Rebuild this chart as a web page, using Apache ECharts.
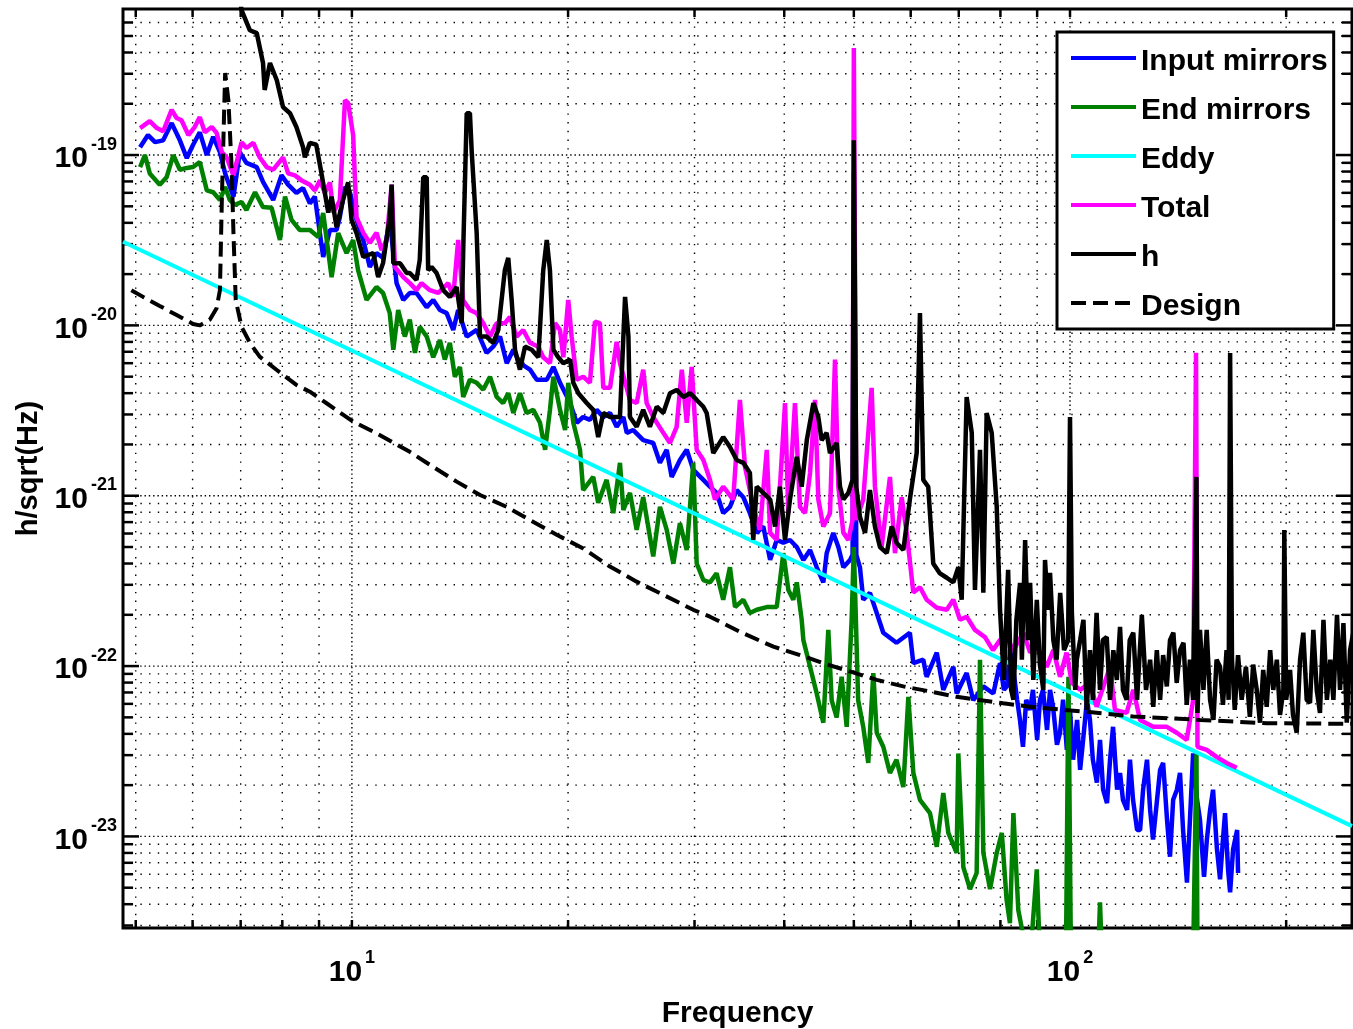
<!DOCTYPE html>
<html>
<head>
<meta charset="utf-8">
<title>Mirror noise contributions</title>
<script src="https://cdn.jsdelivr.net/npm/echarts@6/dist/echarts.min.js"></script>
<style>
  html, body { margin: 0; padding: 0; background: #fff; }
  #chart { width: 1353px; height: 1029px; }
</style>
</head>
<body>
<div id="chart"></div>
<script>
// ---- values: [frequency (Hz), amplitude (1/sqrt(Hz))] ----
const inputMirrors = [
  [5.07,1.11e-19],[5.20,1.31e-19],[5.32,1.19e-19],[5.46,1.22e-19],[5.61,1.54e-19],[5.76,1.22e-19],[5.89,9.6e-20],[6.01,1.15e-19],
  [6.14,1.36e-19],[6.28,1.0e-19],[6.41,1.28e-19],[6.55,1.04e-19],[6.66,7.8e-20],[6.84,5.7e-20],[6.98,1.04e-19],[7.13,9.0e-20],
  [7.37,8.5e-20],[7.52,6.95e-20],[7.77,5.45e-20],[7.98,7.6e-20],[8.15,6.7e-20],[8.37,6.0e-20],[8.55,6.4e-20],[8.74,5.2e-20],
  [8.88,5.7e-20],[9.12,2.52e-20],[9.32,3.63e-20],[9.52,3.63e-20],[9.62,4.3e-20],[9.78,6.5e-20],[9.94,6.0e-20],[10.15,4.16e-20],
  [10.37,3.17e-20],[10.59,2.2e-20],[10.82,2.66e-20],[11.05,2.49e-20],[11.29,4.16e-20],[11.54,1.77e-20],[11.79,1.41e-20],[12.04,1.55e-20],
  [12.30,1.55e-20],[12.71,1.28e-20],[12.98,1.41e-20],[13.26,1.23e-20],[13.55,1.18e-20],[13.84,9.4e-21],[14.06,1.23e-20],[14.45,8.6e-21],
  [14.92,9.4e-21],[15.40,6.9e-21],[15.73,7.5e-21],[16.08,8.6e-21],[16.43,6.0e-21],[16.78,7.2e-21],[17.14,6.0e-21],[17.70,5.5e-21],
  [18.09,4.8e-21],[18.68,4.8e-21],[19.08,5.7e-21],[19.49,4.6e-21],[20.13,3.5e-21],[20.56,2.68e-21],[20.99,2.9e-21],[21.45,2.79e-21],
  [21.92,3.19e-21],[22.39,2.9e-21],[22.88,3.06e-21],[23.37,2.54e-21],[23.88,2.9e-21],[24.14,2.34e-21],[24.65,2.43e-21],[25.45,2.12e-21],
  [26.28,2.04e-21],[26.85,1.56e-21],[27.44,1.86e-21],[27.88,1.29e-21],[28.63,1.62e-21],[29.26,1.86e-21],[29.88,1.42e-21],[30.86,1.24e-21],
  [31.52,1.13e-21],[32.20,1.04e-21],[32.89,7.9e-22],[33.61,8.6e-22],[34.34,1.08e-21],[35.08,9.8e-22],[35.83,7.9e-22],[36.62,6.05e-22],
  [37.40,6.6e-22],[38.23,4.2e-22],[39.05,5.5e-22],[39.88,5.3e-22],[40.74,5.5e-22],[41.64,5.0e-22],[42.53,4.2e-22],[43.45,4.8e-22],
  [44.39,3.8e-22],[45.34,3.1e-22],[45.83,4.6e-22],[46.81,6.05e-22],[47.58,5.0e-22],[48.35,3.8e-22],[49.39,4.2e-22],[49.8,4.5e-22],
  [50.0,8e-20],[50.4,4.5e-22],[50.99,3.8e-22],[51.53,2.45e-22],[52.65,2.69e-22],[53.81,2.05e-22],[54.95,1.57e-22],[57.33,1.37e-22],
  [59.84,1.57e-22],[60.51,1.04e-22],[62.47,1.09e-22],[63.15,8.65e-23],[65.23,1.2e-22],[66.61,7.25e-23],[68.79,9.9e-23],[69.53,6.9e-23],
  [71.79,9.1e-23],[73.33,6.3e-23],[75.74,7.6e-23],[78.20,6.9e-23],[79.89,1.04e-22],[80.9,7.25e-23],[81.7,7.6e-23],[82.5,1.24e-22],
  [83.3,9.9e-23],[84.4,6.34e-23],[85.18,4.83e-23],[86.0,3.36e-23],[86.9,6.34e-23],[88.0,5.53e-23],[88.8,7.25e-23],[90.0,3.69e-23],
  [90.83,6.34e-23],[91.7,7.25e-23],[92.9,4.22e-23],[93.8,7.25e-23],[94.7,5.77e-23],[95.9,3.45e-23],[96.85,4.06e-23],[97.8,6.34e-23],
  [99.0,3.22e-23],[100.0,5.53e-23],[101.0,2.82e-23],[102.3,4.83e-23],[103.3,2.46e-23],[104.3,3.69e-23],[105.6,6.34e-23],[106.6,4.83e-23],
  [107.6,2.82e-23],[109.0,2.07e-23],[110.1,3.69e-23],[111.2,1.88e-23],[112.6,1.57e-23],[113.7,2.82e-23],[114.8,4.4e-23],[116.3,1.88e-23],
  [117.4,2.36e-23],[118.5,1.64e-23],[120.1,1.43e-23],[121.2,2.82e-23],[122.4,1.64e-23],[124.0,1.09e-23],[125.2,1.09e-23],[126.4,1.88e-23],
  [128.0,2.82e-23],[129.3,1.43e-23],[130.5,9.6e-24],[132.2,1.64e-23],[133.5,2.46e-23],[134.8,2.7e-23],[136.5,1.25e-23],[137.8,7.6e-24],
  [139.2,1.64e-23],[140.9,1.88e-23],[142.3,2.36e-23],[143.7,1.09e-23],[145.5,5.35e-24],[146.9,1.25e-23],[148.4,3.07e-23],[150.3,1.64e-23],
  [151.7,1.25e-23],[153.7,5.8e-24],[155.1,9.6e-24],[156.7,1.43e-23],[158.2,1.88e-23],[160.2,8.4e-24],[161.8,5.6e-24],[163.3,9.6e-24],
  [164.4,1.37e-23],[166.0,6.4e-24],[167.1,4.7e-24],[168.7,8.4e-24],[170.9,1.09e-23],[171.4,6.1e-24]
];

const endMirrors = [
  [5.07,8.5e-20],[5.15,1.0e-19],[5.23,7.8e-20],[5.40,6.7e-20],[5.52,7.4e-20],[5.64,1.0e-19],[5.76,8.2e-20],[5.89,8.4e-20],
  [6.01,8.5e-20],[6.14,9.1e-20],[6.28,6.2e-20],[6.41,6.05e-20],[6.55,5.45e-20],[6.66,6.5e-20],[6.76,5.45e-20],[6.87,5.1e-20],
  [7.02,5.3e-20],[7.13,4.76e-20],[7.33,6.05e-20],[7.52,4.95e-20],[7.73,4.9e-20],[7.94,3.17e-20],[8.07,5.7e-20],[8.24,4.16e-20],
  [8.46,3.63e-20],[8.74,3.63e-20],[8.98,3.3e-20],[9.12,4.57e-20],[9.37,1.92e-20],[9.57,3.48e-20],[9.83,2.66e-20],[10.04,3.17e-20],
  [10.20,2.11e-20],[10.48,1.41e-20],[10.82,1.68e-20],[11.05,1.55e-20],[11.29,1.18e-20],[11.42,7.2e-21],[11.60,1.23e-20],[11.85,8.6e-21],
  [12.04,1.08e-20],[12.24,6.9e-21],[12.43,9.8e-21],[12.71,8.6e-21],[12.98,6.5e-21],[13.26,8.2e-21],[13.47,6.3e-21],[13.69,7.9e-21],
  [13.91,5.0e-21],[14.14,5.7e-21],[14.29,3.8e-21],[14.60,4.8e-21],[14.92,4.6e-21],[15.24,4.2e-21],[15.57,5.0e-21],[15.91,3.8e-21],
  [16.24,3.5e-21],[16.51,4.0e-21],[16.78,3.06e-21],[17.14,4.0e-21],[17.51,3.06e-21],[17.89,3.19e-21],[18.28,2.68e-21],[18.58,1.86e-21],
  [18.87,3.19e-21],[19.08,5.0e-21],[19.49,3.19e-21],[19.81,2.43e-21],[20.01,4.6e-21],[20.34,2.68e-21],[20.78,1.86e-21],[20.99,1.08e-21],
  [21.68,1.29e-21],[22.03,9.1e-22],[22.63,1.24e-21],[23.12,7.9e-22],[23.62,1.56e-21],[23.88,8.25e-22],[24.39,1.04e-21],[24.92,6.3e-22],
  [25.45,9.8e-22],[26.28,4.4e-22],[26.85,8.6e-22],[27.44,6.3e-22],[28.03,4.0e-22],[28.63,6.9e-22],[29.26,4.8e-22],[29.88,1.56e-21],
  [30.21,4.0e-22],[30.86,3.2e-22],[31.52,3.1e-22],[32.20,3.5e-22],[32.89,2.45e-22],[33.61,3.8e-22],[34.16,2.22e-22],[35.08,2.45e-22],
  [35.83,2.05e-22],[36.62,2.14e-22],[37.82,2.22e-22],[39.05,2.22e-22],[39.88,4.6e-22],[40.53,2.8e-22],[41.18,2.45e-22],[41.64,3.1e-22],
  [42.30,1.87e-22],[42.53,1.42e-22],[43.45,9.9e-23],[44.39,6.9e-23],[45.34,4.65e-23],[46.07,1.63e-22],[46.57,6.3e-23],[47.32,5.0e-23],
  [48.08,8.65e-23],[48.87,4.4e-23],[49.65,1.87e-22],[50.0,5.0e-22],[50.7,6.3e-23],[51.53,4.4e-23],[52.37,2.7e-23],[53.22,9.1e-23],
  [53.81,4.06e-23],[54.95,3.36e-23],[56.14,2.36e-23],[57.33,2.82e-23],[58.60,1.95e-23],[59.55,6.6e-23],[60.51,2.36e-23],[61.81,1.64e-23],
  [63.83,1.37e-23],[65.23,8.7e-24],[66.61,1.8e-23],[67.69,1.05e-23],[69.53,8.0e-24],[69.9,3.07e-23],[71.03,6.6e-24],[72.57,4.9e-24],
  [74.13,6.1e-24],[74.93,1.09e-22],[75.74,8.0e-24],[77.38,4.9e-24],[79.06,8.0e-24],[80.36,1.05e-23],[81.6,4.25e-24],[82.48,3.1e-24],
  [83.4,1.37e-23],[84.72,3.7e-24],[86.1,2.6e-24],[88.0,1.9e-24],[89.9,6.4e-24],[90.83,1.9e-24],[98.7,1.9e-24],[99.5,8.65e-23],
  [100.3,1.9e-24],[109.4,1.9e-24],[110.1,4.1e-24],[110.8,1.9e-24],[148.4,1.9e-24],[150.0,3.07e-23],[150.5,1.9e-24],[171.4,1.9e-24]
];

const eddyCurrent = [[4.8,3.1e-20],[247,1.15e-23]];

const totalNoise = [
  [5.07,1.44e-19],[5.23,1.58e-19],[5.35,1.44e-19],[5.46,1.38e-19],[5.61,1.84e-19],[5.70,1.65e-19],[5.79,1.60e-19],[5.92,1.31e-19],
  [6.04,1.46e-19],[6.14,1.67e-19],[6.24,1.36e-19],[6.38,1.46e-19],[6.48,1.35e-19],[6.59,1.04e-19],[6.69,9.7e-20],[6.84,7.6e-20],
  [7.02,1.19e-19],[7.13,1.10e-19],[7.29,1.18e-19],[7.44,9.7e-20],[7.61,8.5e-20],[7.77,8.2e-20],[8.02,9.7e-20],[8.15,7.8e-20],
  [8.33,7.6e-20],[8.51,7.1e-20],[8.74,6.7e-20],[8.88,6.2e-20],[9.03,7.1e-20],[9.17,6.0e-20],[9.32,6.9e-20],[9.42,4.6e-20],
  [9.62,5.4e-20],[9.78,2.10e-19],[9.88,2.02e-19],[10.04,1.31e-19],[10.15,4.3e-20],[10.37,3.5e-20],[10.59,3.05e-20],[10.82,3.5e-20],
  [11.0,2.77e-20],[11.18,3.17e-20],[11.36,6.7e-20],[11.48,2.2e-20],[11.79,1.92e-20],[12.04,1.77e-20],[12.30,1.61e-20],[12.50,1.77e-20],
  [12.84,1.61e-20],[13.19,1.55e-20],[13.62,1.77e-20],[13.84,1.47e-20],[14.06,3.17e-20],[14.28,1.41e-20],[14.60,1.23e-20],[14.92,1.18e-20],
  [15.24,1.03e-20],[15.57,8.6e-21],[15.91,1.03e-20],[16.33,1.03e-20],[16.60,1.12e-20],[16.96,8.6e-21],[17.32,9.4e-21],[17.70,7.9e-21],
  [18.18,7.5e-21],[18.47,6.5e-21],[18.87,6.0e-21],[19.18,1.03e-20],[19.49,9.4e-21],[19.70,6.5e-21],[20.01,1.41e-20],[20.23,8.6e-21],
  [20.56,4.8e-21],[20.99,5.0e-21],[21.45,4.6e-21],[21.80,1.05e-20],[22.15,1.03e-20],[22.39,4.3e-21],[22.88,4.3e-21],[23.37,8.0e-21],
  [23.62,6.0e-21],[24.39,3.65e-21],[24.92,3.5e-21],[25.45,5.5e-21],[25.73,3.5e-21],[26.28,2.9e-21],[27.14,2.34e-21],[27.73,2.04e-21],
  [28.33,2.54e-21],[28.80,5.5e-21],[29.26,2.68e-21],[29.73,5.7e-21],[30.21,1.86e-21],[30.86,1.62e-21],[31.52,1.24e-21],[32.03,9.5e-22],
  [32.89,1.13e-21],[33.96,9.5e-22],[34.70,3.65e-21],[35.27,1.48e-21],[36.22,8.6e-22],[37.0,6.3e-22],[37.82,1.86e-21],[38.23,6.05e-22],
  [39.05,5.5e-22],[40.10,3.5e-21],[40.53,7.9e-22],[41.40,3.5e-21],[42.07,8.6e-22],[42.76,7.9e-22],[43.45,1.36e-21],[44.15,3.65e-21],
  [44.62,9.5e-22],[45.34,6.6e-22],[46.32,7.9e-22],[47.07,6.3e-21],[47.58,1.13e-21],[48.35,6.05e-22],[49.13,5.5e-22],[49.8,7.2e-22],
  [50.0,4.25e-19],[50.4,7.2e-22],[51.53,9.5e-22],[52.94,4.3e-21],[53.5,1.13e-21],[54.66,5.0e-22],[56.14,1.29e-21],[57.05,4.6e-22],
  [58.29,9.8e-22],[59.24,6.05e-22],[60.51,2.7e-22],[61.81,2.9e-22],[63.15,2.45e-22],[65.23,2.2e-22],[67.35,2.14e-22],[68.79,2.45e-22],
  [70.27,1.87e-22],[71.79,1.95e-22],[73.73,1.63e-22],[76.13,1.48e-22],[78.11,1.24e-22],[79.89,1.42e-22],[81.6,1.48e-22],[83.4,1.24e-22],
  [86.1,1.57e-22],[88.0,1.2e-22],[89.9,1.3e-22],[92.8,9.9e-23],[94.8,1.24e-22],[96.85,8.65e-23],[98.9,1.2e-22],[100.6,7.97e-23],
  [103.3,7.25e-23],[106.6,7.97e-23],[108.9,5.77e-23],[113.7,9.9e-23],[115.5,5.53e-23],[119.9,5.31e-23],[122.5,7.25e-23],[125.2,4.83e-23],
  [130.6,4.4e-23],[136.4,4.4e-23],[140.8,4.06e-23],[145.4,3.69e-23],[148.4,6.3e-23],[149.8,6.9e-21],[150.5,3.36e-23],[155.0,3.22e-23],
  [160.0,2.93e-23],[165.2,2.7e-23],[170.7,2.53e-23]
];

const hStrain = [
  [6.9,1.2e-18],[7.02,7.1e-19],[7.21,5.4e-19],[7.37,5.2e-19],[7.52,3.47e-19],[7.56,2.41e-19],[7.69,3.47e-19],[7.86,2.75e-19],
  [8.02,1.91e-19],[8.20,1.76e-19],[8.37,1.46e-19],[8.55,1.11e-19],[8.60,9.7e-20],[8.74,1.18e-19],[8.92,1.15e-19],[9.07,7.8e-20],
  [9.27,4.6e-20],[9.37,5.7e-20],[9.52,3.78e-20],[9.72,5.45e-20],[9.88,6.9e-20],[9.99,4.16e-20],[10.15,3.48e-20],[10.37,2.52e-20],
  [10.71,2.66e-20],[10.88,1.92e-20],[11.05,2.32e-20],[11.29,4.3e-20],[11.36,6.7e-20],[11.42,2.32e-20],[11.67,2.32e-20],[11.92,2.03e-20],
  [12.04,2.03e-20],[12.30,1.85e-20],[12.43,2.42e-20],[12.57,7.4e-20],[12.71,7.4e-20],[12.77,2.11e-20],[12.91,2.2e-20],[13.12,2.03e-20],
  [13.40,1.61e-20],[13.69,1.47e-20],[13.99,1.68e-20],[14.22,1.03e-20],[14.29,2.77e-20],[14.45,1.76e-19],[14.60,1.76e-19],[14.68,1.07e-19],
  [14.92,3.48e-20],[15.08,8.6e-21],[15.40,8.6e-21],[15.73,7.9e-21],[15.99,9.4e-21],[16.33,2.11e-20],[16.51,2.49e-20],[16.69,1.41e-20],
  [16.87,7.2e-21],[17.14,5.5e-21],[17.42,7.5e-21],[17.80,7.2e-21],[18.18,6.5e-21],[18.47,2.11e-20],[18.68,3.17e-20],[18.87,2.11e-20],
  [19.08,7.2e-21],[19.38,6.5e-21],[19.70,6.0e-21],[20.13,6.3e-21],[20.34,4.6e-21],[20.67,4.0e-21],[21.23,3.5e-21],[21.68,3.19e-21],
  [22.03,2.21e-21],[22.39,3.06e-21],[22.88,2.9e-21],[23.62,2.9e-21],[24.01,1.47e-20],[24.27,8.6e-21],[24.39,2.9e-21],[24.92,2.54e-21],
  [25.45,3.19e-21],[26.0,2.54e-21],[26.58,3.33e-21],[27.14,3.06e-21],[27.73,4.0e-21],[28.33,4.18e-21],[28.94,3.8e-21],[29.57,4.0e-21],
  [30.21,3.65e-21],[30.86,3.33e-21],[31.19,3.06e-21],[31.86,1.78e-21],[32.89,2.21e-21],[33.61,1.93e-21],[34.34,1.62e-21],[35.08,1.56e-21],
  [35.83,1.36e-21],[36.22,5.5e-22],[36.62,1.13e-21],[37.40,1.04e-21],[38.23,9.5e-22],[38.84,6.6e-22],[39.45,1.13e-21],[40.10,5.5e-22],
  [40.74,9.5e-22],[41.64,1.69e-21],[42.30,1.13e-21],[43.0,2.12e-21],[43.92,3.5e-21],[44.62,2.9e-21],[45.10,2.12e-21],[45.83,2.34e-21],
  [46.32,1.78e-21],[47.32,2.04e-21],[47.83,1.13e-21],[48.35,9.5e-22],[49.13,1.04e-21],[49.8,1.24e-21],[50.0,1.22e-19],[50.4,1.13e-21],
  [50.99,7.5e-22],[51.83,6.05e-22],[52.65,1.08e-21],[53.5,6.6e-22],[54.37,5.0e-22],[55.57,4.6e-22],[56.45,6.6e-22],[57.33,5.3e-22],
  [58.60,4.8e-22],[59.84,9.5e-22],[61.16,1.78e-21],[61.81,1.18e-20],[62.47,1.24e-21],[63.47,1.13e-21],[64.50,4.0e-22],[65.9,3.5e-22],
  [67.35,3.3e-22],[68.79,3.1e-22],[69.90,3.8e-22],[70.66,2.45e-22],[71.79,3.8e-21],[72.98,2.34e-21],[73.73,2.8e-22],[74.93,1.86e-21],
  [75.74,2.7e-22],[76.55,3.06e-21],[77.8,2.34e-21],[79.06,8.6e-22],[79.9,2.14e-22],[80.9,8.3e-23],[82.0,3.67e-22],[82.8,7.25e-23],
  [83.4,6.34e-23],[84.2,1.87e-22],[85.2,3.08e-22],[85.7,1.09e-22],[86.6,5.5e-22],[87.4,1.42e-22],[88.0,3.08e-22],[88.9,8.3e-23],
  [89.9,2.45e-22],[90.8,1.02e-22],[91.8,7.25e-23],[92.3,4.2e-22],[93.2,2.14e-22],[93.8,3.52e-22],[94.8,1.42e-22],[95.8,1.09e-22],
  [96.9,2.69e-22],[98.1,1.24e-22],[99.4,1.42e-22],[100.0,2.9e-21],[100.6,2.05e-22],[101.7,7.25e-23],[102.2,1.09e-22],[103.3,1.42e-22],
  [104.4,1.87e-22],[105.5,5.53e-23],[106.6,1.24e-22],[107.6,6.34e-23],[108.9,2.05e-22],[110.1,7.25e-23],[111.1,1.42e-22],[112.5,1.48e-22],
  [113.7,6.34e-23],[114.9,1.24e-22],[116.2,8.3e-23],[117.4,1.70e-22],[118.5,7.25e-23],[119.9,6.34e-23],[121.1,1.42e-22],[122.5,1.57e-22],
  [124.0,6.34e-23],[125.9,2.0e-22],[127.6,7.25e-23],[129.3,1.09e-22],[130.6,5.77e-23],[132.1,1.24e-22],[133.5,6.34e-23],[134.8,1.16e-22],
  [136.4,7.6e-23],[137.8,1.42e-22],[139.3,1.57e-22],[140.8,7.97e-23],[142.3,1.24e-22],[143.9,1.37e-22],[145.4,5.92e-23],[146.9,1.09e-22],
  [148.4,6.34e-23],[150.0,1.29e-21],[150.5,5.31e-23],[151.7,1.63e-22],[153.4,7.25e-23],[155.0,1.63e-22],[156.7,6.34e-23],[158.4,4.83e-23],
  [160.0,1.09e-22],[161.8,9.9e-23],[163.3,5.92e-23],[165.2,1.24e-22],[166.3,6.34e-23],[167.1,6.89e-21],[168.1,1.09e-22],[169.6,5.53e-23],
  [171.4,1.16e-22],[173.4,6.34e-23],[175.8,9.9e-23],[178.0,5.03e-23],[179.9,1.02e-22],[182.0,7.25e-23],[183.9,4.65e-23],[185.8,9.5e-23],
  [187.9,5.77e-23],[190.0,1.24e-22],[191.9,7.25e-23],[194.1,1.09e-22],[196.1,5.17e-23],[198.2,7.25e-23],[198.8,6.3e-22],[200.0,6.34e-23],
  [202.5,9.5e-23],[204.4,5.17e-23],[206.9,4.06e-23],[209.1,1.09e-22],[211.3,1.57e-22],[213.6,6.34e-23],[215.9,6.08e-23],[218.2,1.63e-22],
  [220.6,7.25e-23],[222.9,5.31e-23],[225.4,1.87e-22],[227.9,6.34e-23],[230.4,1.09e-22],[232.7,6.34e-23],[235.4,2.0e-22],[237.7,7.25e-23],
  [240.3,1.79e-22],[242.9,4.65e-23],[245.5,1.24e-22],[248,1.57e-22]
];

const designCurve = [
  [4.93,1.61e-20],[5.12,1.47e-20],[5.40,1.30e-20],[5.70,1.15e-20],[6.01,1.02e-20],[6.14,1.0e-20],[6.34,1.08e-20],[6.48,1.26e-20],
  [6.55,1.61e-20],[6.59,5.45e-20],[6.66,3.03e-19],[6.73,2.10e-19],[6.80,8.5e-20],[6.84,3.49e-20],[6.89,1.41e-20],[7.02,9.8e-21],
  [7.21,7.9e-21],[7.44,6.55e-21],[7.86,5.47e-21],[8.37,4.47e-21],[8.74,4.08e-21],[9.22,3.49e-21],[10.04,2.72e-21],[10.82,2.33e-21],
  [12.04,1.81e-21],[12.84,1.52e-21],[13.99,1.21e-21],[15.08,1.01e-21],[16.43,8.6e-22],[17.70,7.2e-22],[19.28,5.9e-22],[21.0,4.9e-22],
  [22.87,3.84e-22],[24.92,3.13e-22],[27.14,2.62e-22],[29.88,2.14e-22],[31.52,1.95e-22],[34.70,1.59e-22],[38.63,1.30e-22],[42.07,1.16e-22],
  [45.33,1.04e-22],[49.39,9.3e-23],[53.81,8.3e-23],[58.6,7.6e-23],[63.8,7.1e-23],[69.5,6.6e-23],[80.7,6.05e-23],[88.9,5.74e-23],
  [104.4,5.41e-23],[122.5,5.06e-23],[151.7,4.83e-23],[187.9,4.62e-23],[248,4.58e-23]
];

// axis ranges and tick positions
const X_MIN = 4.8, X_MAX = 247
const Y_MIN = 2.9e-24, Y_MAX = 7.2e-19
const xMajorTicks = [10, 100]
const xMinorTicks = [5, 6, 7, 8, 9, 20, 30, 40, 50, 60, 70, 80, 90, 200]
const yMajorTicks = [1e-23, 1e-22, 1e-21, 1e-20, 1e-19]
const yMinorTicks = [
  3e-24, 4e-24, 5e-24, 6e-24, 7e-24, 8e-24, 9e-24,
  2e-23, 3e-23, 4e-23, 5e-23, 6e-23, 7e-23, 8e-23, 9e-23,
  2e-22, 3e-22, 4e-22, 5e-22, 6e-22, 7e-22, 8e-22, 9e-22,
  2e-21, 3e-21, 4e-21, 5e-21, 6e-21, 7e-21, 8e-21, 9e-21,
  2e-20, 3e-20, 4e-20, 5e-20, 6e-20, 7e-20, 8e-20, 9e-20,
  2e-19, 3e-19, 4e-19, 5e-19, 6e-19
]

const FONT = '"Liberation Sans", Arial, Helvetica, sans-serif'

// grid line items: [x, y, direction (0 = vertical), major flag]
const gridItems = []
xMajorTicks.forEach(v => gridItems.push([v, Y_MIN, 0, 1]))
xMinorTicks.forEach(v => gridItems.push([v, Y_MIN, 0, 0]))
yMajorTicks.forEach(v => gridItems.push([X_MIN, v, 1, 1]))
yMinorTicks.forEach(v => gridItems.push([X_MIN, v, 1, 0]))

function renderGrid(params, api) {
  const cs = params.coordSys
  const pt = api.coord([api.value(0), api.value(1)])
  const major = api.value(3) === 1
  const dotted = { stroke: '#000', lineWidth: 1.4, lineDash: major ? [1.4, 2.9] : [1.4, 7.3] }
  const tick = { stroke: '#000', lineWidth: 2.5 }
  const top = cs.y, bottom = cs.y + cs.height, left = cs.x, right = cs.x + cs.width
  if (api.value(2) === 0) {
    const x = pt[0]
    return {
      type: 'group',
      children: [
        { type: 'line', shape: { x1: x, y1: top, x2: x, y2: bottom }, style: dotted },
        { type: 'line', shape: { x1: x, y1: bottom, x2: x, y2: bottom - 8 }, style: tick },
        { type: 'line', shape: { x1: x, y1: top, x2: x, y2: top + 8 }, style: tick }
      ]
    }
  }
  const y = pt[1]
  const len = major ? 16 : 10
  return {
    type: 'group',
    children: [
      { type: 'line', shape: { x1: left, y1: y, x2: right, y2: y }, style: dotted },
      { type: 'line', shape: { x1: left, y1: y, x2: left + len, y2: y }, style: tick },
      { type: 'line', shape: { x1: right, y1: y, x2: right - len, y2: y }, style: tick }
    ]
  }
}

function powerLabel(v) {
  return '{b|10}{s|' + Math.round(Math.log10(v)) + '}'
}

const labelRich = {
  b: { fontSize: 30, fontWeight: 'bold', color: '#000', fontFamily: FONT, lineHeight: 30, padding: [17, 0, 0, 0] },
  s: { fontSize: 18, fontWeight: 'bold', color: '#000', fontFamily: FONT, lineHeight: 18, verticalAlign: 'top', padding: [0, 0, 0, 3] }
}

function lineSeries(name, data, color, width, dash) {
  return {
    name: name,
    type: 'line',
    data: data,
    symbol: 'none',
    showSymbol: false,
    silent: true,
    lineStyle: { color: color, width: width, type: dash || 'solid' },
    itemStyle: { color: color }
  }
}

const chart = echarts.init(document.getElementById('chart'))

chart.setOption({
  animation: false,
  backgroundColor: '#fff',
  textStyle: { fontFamily: FONT },
  grid: {
    left: 123, top: 9, right: 1, bottom: 101,
    show: true, borderColor: '#000', borderWidth: 3, backgroundColor: 'transparent',
    containLabel: false, outerBoundsMode: 'none'
  },
  legend: {
    data: ['Input mirrors', 'End mirrors', 'Eddy', 'Total', 'h', 'Design'],
    orient: 'vertical',
    left: 1057, top: 32,
    padding: [7, 6, 7, 12],
    itemGap: 11,
    itemWidth: 65,
    itemHeight: 14,
    selectedMode: false,
    backgroundColor: '#fff',
    borderColor: '#000',
    borderWidth: 3,
    borderRadius: 0,
    itemStyle: { opacity: 0, borderWidth: 0 },
    lineStyle: { width: 4 },
    formatter: name => '{t|' + name + '}',
    textStyle: {
      fontSize: 30, fontWeight: 'bold', color: '#000', fontFamily: FONT,
      rich: { t: { fontSize: 30, fontWeight: 'bold', color: '#000', fontFamily: FONT, lineHeight: 32, padding: [8, 0, 0, 0] } }
    }
  },
  xAxis: {
    type: 'log', logBase: 10, min: X_MIN, max: X_MAX,
    name: 'Frequency', nameLocation: 'middle', nameGap: 71, nameMoveOverlap: false,
    nameTextStyle: { fontSize: 30, fontWeight: 'bold', color: '#000', fontFamily: FONT },
    axisLine: { show: false }, axisTick: { show: false }, splitLine: { show: false },
    axisLabel: { margin: 21, showMinLabel: false, showMaxLabel: false, formatter: powerLabel, rich: labelRich }
  },
  yAxis: {
    type: 'log', logBase: 10, min: Y_MIN, max: Y_MAX,
    name: 'h/sqrt(Hz)', nameLocation: 'middle', nameGap: 80, nameMoveOverlap: false,
    nameTextStyle: { fontSize: 29, fontWeight: 'bold', color: '#000', fontFamily: FONT },
    axisLine: { show: false }, axisTick: { show: false }, splitLine: { show: false },
    axisLabel: { margin: 6, padding: [0, 0, 9, 0], showMinLabel: false, showMaxLabel: false, formatter: powerLabel, rich: labelRich }
  },
  series: [
    {
      type: 'custom',
      silent: true,
      z: 1,
      renderItem: renderGrid,
      data: gridItems
    },
    lineSeries('Input mirrors', inputMirrors, '#0000ff', 4.5),
    lineSeries('End mirrors', endMirrors, '#008000', 4.5),
    lineSeries('Eddy', eddyCurrent, '#00ffff', 4),
    lineSeries('Total', totalNoise, '#ff00ff', 4.5),
    lineSeries('h', hStrain, '#000000', 4.5),
    lineSeries('Design', designCurve, '#000000', 4, [15, 7])
  ]
})
</script>
</body>
</html>
